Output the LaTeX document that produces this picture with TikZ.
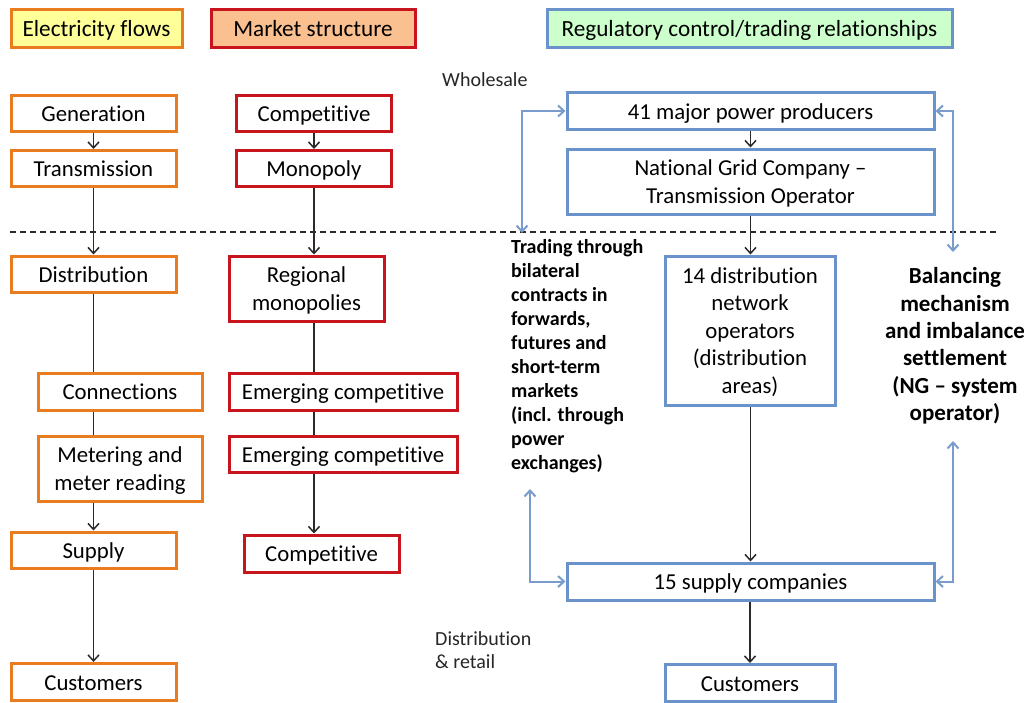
\documentclass[tikz,border=0pt]{standalone}
\usepackage{fontspec}
\setmainfont{Carlito}[Ligatures=NoCommon]
\usetikzlibrary{arrows.meta,shadows}
\definecolor{orgB}{HTML}{E87C1E}
\definecolor{redB}{HTML}{C8141C}
\definecolor{bluB}{HTML}{6A93CB}
\definecolor{yelF}{HTML}{FFFF99}
\definecolor{peaF}{HTML}{FAC090}
\definecolor{grnF}{HTML}{CCFFCC}
\definecolor{arrC}{HTML}{2A2A2A}
\definecolor{barC}{HTML}{7A9CCC}
\begin{document}
\begin{tikzpicture}[x=1pt,y=-1pt,
 box/.style={draw, line width=3pt, fill=white, inner sep=0pt, align=center,
   font=\fontsize{22.8}{27.5}\selectfont,
   drop shadow={shadow xshift=1.2pt,shadow yshift=-1.2pt,opacity=0.25}},
 one/.style={text height=17pt, text depth=1pt},
 multi/.style={text depth=0pt},
 obox/.style={box, draw=orgB},
 rbox/.style={box, draw=redB},
 bbox/.style={box, draw=bluB},
 hbox/.style={box, one, font=\fontsize{23.2}{27}\selectfont, text height=18pt},
 flow/.style={draw=arrC, line width=1.5pt, -{Straight Barb[length=6pt,width=11pt]}},
 plain/.style={draw=arrC, line width=1.5pt},
 barr/.style={draw=barC, line width=2pt, {Straight Barb[length=6pt,width=11pt]}-{Straight Barb[length=6pt,width=11pt]}},
 note/.style={inner sep=0pt, font=\fontsize{20}{23}\selectfont, text=black!85},
]
\useasboundingbox (0,0) rectangle (1024,702);
\fill[white] (0,0) rectangle (1024,702);

% dashed separator
\coordinate (dl) at (10,232);
\coordinate (dr) at (997,232);
\draw[arrC, line width=1.4pt, dash pattern=on 6pt off 4pt] (dl) -- (dr);

% headers
\node[hbox, draw=orgB, fill=yelF, minimum width=171pt, minimum height=38pt] (h1) at (96.5,28) {Electricity flows};
\node[hbox, draw=redB, fill=peaF, minimum width=204pt, minimum height=38pt] (h2) at (313,28) {Market structure};
\node[hbox, draw=bluB, fill=grnF, minimum width=405pt, minimum height=38pt] (h3) at (749.5,28) {Regulatory control/trading relationships};

% column 1
\node[obox, one, minimum width=165pt, minimum height=36pt] (gen) at (93.5,113) {Generation};
\node[obox, one, minimum width=165pt, minimum height=36pt] (trans) at (93.5,168.5) {Transmission};
\node[obox, one, minimum width=165pt, minimum height=36pt] (dist) at (93.5,274) {Distribution};
\node[obox, one, minimum width=164pt, minimum height=37pt] (conn) at (120,391.5) {Connections};
\node[obox, multi, minimum width=164pt, minimum height=65pt] (meter) at (120,468.5) {Metering and\\meter reading};
\node[obox, one, minimum width=165pt, minimum height=36pt] (supply) at (93.5,550) {Supply};
\node[obox, one, minimum width=165pt, minimum height=37pt] (cust1) at (93.5,682) {Customers};

% column 2
\node[rbox, one, minimum width=155pt, minimum height=36pt] (comp1) at (314,113) {Competitive};
\node[rbox, one, minimum width=155pt, minimum height=36pt] (mono) at (314,168.5) {Monopoly};
\node[rbox, multi, minimum width=155pt, minimum height=65pt] (reg) at (306.5,288.5) {Regional\\monopolies};
\node[rbox, one, minimum width=228pt, minimum height=37pt] (emer1) at (343,391.5) {Emerging competitive};
\node[rbox, one, minimum width=228pt, minimum height=36pt] (emer2) at (343,454) {Emerging competitive};
\node[rbox, one, minimum width=155pt, minimum height=37pt] (comp2) at (321.5,553.5) {Competitive};

% column 3
\node[bbox, one, minimum width=367pt, minimum height=37pt] (p41) at (750.5,111) {41 major power producers};
\node[bbox, multi, minimum width=367pt, minimum height=65pt] (ngc) at (750.5,181.5) {National Grid Company --\\Transmission Operator};
\node[bbox, multi, minimum width=170pt, minimum height=149pt] (dno) at (750,330.5) {14 distribution\\network\\operators\\(distribution\\areas)};
\node[bbox, one, minimum width=367pt, minimum height=37pt] (sup15) at (750.5,581.5) {15 supply companies};
\node[bbox, one, minimum width=170pt, minimum height=37pt] (cust2) at (750,683) {Customers};

% side texts
\node[note, anchor=west] (whole) at (442,80) {Wholesale};
\node[note, anchor=north west, align=left] (dret) at (435,631) {Distribution\\\& retail};
\node[inner sep=0pt, anchor=north west, align=left, font=\bfseries\fontsize{20}{24}\selectfont] (trad) at (511,239)
 {Trading through\\bilateral\\contracts in\\forwards,\\futures and\\short-term\\markets\\(incl. through\\power\\exchanges)};
\node[inner sep=0pt, align=center, font=\bfseries\fontsize{23}{27.4}\selectfont] (bal) at (955,346)
 {Balancing\\mechanism\\and imbalance\\settlement\\(NG -- system\\operator)};

% column 1 connectors
\draw[flow] (gen) -- (trans);
\draw[flow] (trans) -- (dist);
\draw[plain] (dist.south) -- (conn.north -| dist.south);
\draw[plain] (conn.south -| dist.south) -- (meter.north -| dist.south);
\draw[flow] (meter.south -| dist.south) -- (supply.north);
\draw[flow] (supply) -- (cust1);

% column 2 connectors
\draw[flow] (comp1) -- (mono);
\draw[flow] (mono.south) -- (reg.north -| mono.south);
\draw[plain] (reg.south -| mono.south) -- (emer1.north -| mono.south);
\draw[plain] (emer1.south -| mono.south) -- (emer2.north -| mono.south);
\draw[flow] (emer2.south -| mono.south) -- (comp2.north -| mono.south);

% column 3 connectors
\draw[flow] (p41) -- (ngc);
\draw[flow] (ngc.south) -- (dno.north -| ngc.south);
\draw[flow] (dno.south -| sup15.north) -- (sup15.north);
\draw[flow] (sup15.south -| cust2.north) -- (cust2.north);

% blue two-way arrows
\coordinate (tl) at (522,233);
\coordinate (tr) at (953,252);
\coordinate (bl) at (530,489);
\coordinate (br) at (953,441);
\draw[barr] (tl) |- (p41.west);
\draw[barr] (tr) |- (p41.east);
\draw[barr] (bl) |- (sup15.west);
\draw[barr] (br) |- (sup15.east);
\end{tikzpicture}
\end{document}
